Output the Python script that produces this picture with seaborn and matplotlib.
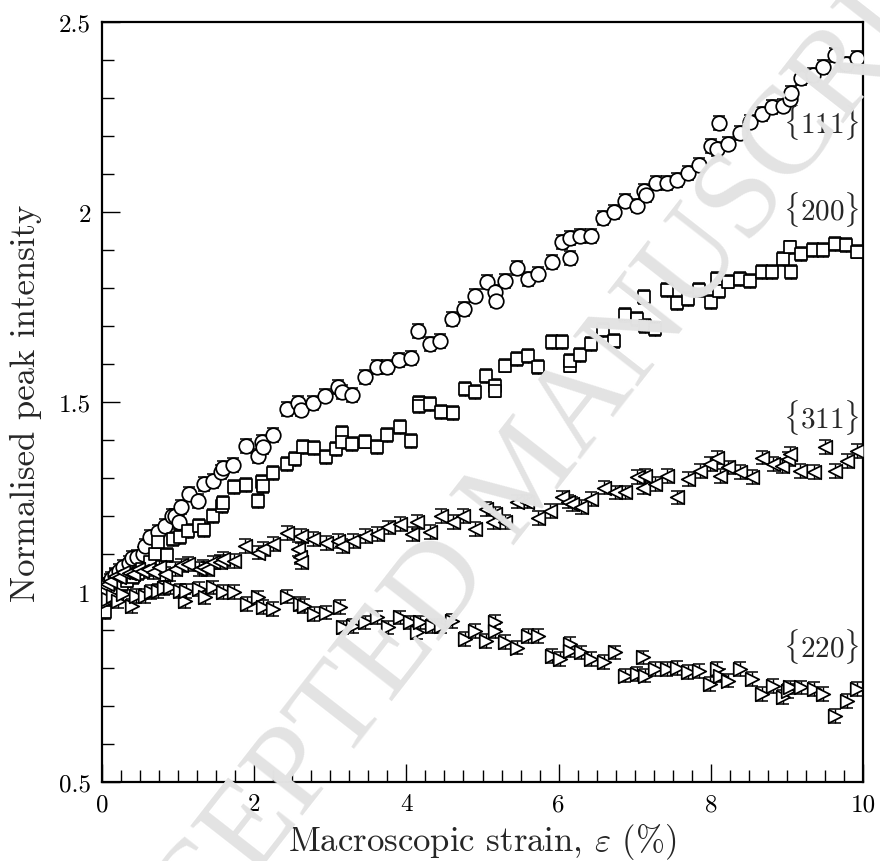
import numpy as np
import pandas as pd
import matplotlib
matplotlib.use("Agg")
import matplotlib.pyplot as plt
from matplotlib.ticker import MultipleLocator, FuncFormatter
import seaborn as sns

# {111} open circles
x111 = [0.00, 0.04, 0.08, 0.12, 0.17, 0.22, 0.27, 0.35, 0.39, 0.46, 0.54, 0.57, 0.63, 0.74,
        0.83, 0.92, 0.96, 1.01, 1.04, 1.14, 1.26, 1.34, 1.46, 1.57, 1.59, 1.72, 1.89, 2.05,
        2.10, 2.11, 2.25, 2.43, 2.57, 2.62, 2.77, 2.93, 3.10, 3.15, 3.29, 3.46, 3.61, 3.74,
        3.90, 4.06, 4.15, 4.31, 4.44, 4.60, 4.76, 4.90, 5.06, 5.16, 5.18, 5.30, 5.45, 5.60,
        5.73, 5.91, 6.04, 6.15, 6.15, 6.28, 6.43, 6.58, 6.73, 6.87, 7.03, 7.12, 7.15, 7.28,
        7.42, 7.56, 7.70, 7.85, 8.00, 8.08, 8.11, 8.23, 8.39, 8.52, 8.67, 8.81, 8.95, 9.04,
        9.05, 9.19, 9.34, 9.47, 9.63, 9.78, 9.92]
y111 = [1.000, 1.010, 1.020, 1.035, 1.045, 1.055, 1.065, 1.076, 1.089, 1.092, 1.100, 1.122,
        1.145, 1.158, 1.174, 1.200, 1.200, 1.184, 1.224, 1.258, 1.240, 1.284, 1.292, 1.316,
        1.326, 1.334, 1.384, 1.358, 1.395, 1.382, 1.413, 1.482, 1.497, 1.480, 1.497, 1.517,
        1.540, 1.526, 1.518, 1.566, 1.592, 1.592, 1.611, 1.616, 1.687, 1.653, 1.661, 1.718,
        1.745, 1.780, 1.816, 1.790, 1.767, 1.819, 1.853, 1.824, 1.837, 1.869, 1.922, 1.879,
        1.932, 1.937, 1.937, 1.984, 2.000, 2.030, 2.017, 2.056, 2.045, 2.076, 2.076, 2.084,
        2.103, 2.124, 2.174, 2.166, 2.234, 2.180, 2.208, 2.238, 2.258, 2.276, 2.280, 2.297,
        2.313, 2.353, 2.361, 2.382, 2.413, 2.390, 2.405]

# {200} open squares
x200 = [0.00, 0.02, 0.04, 0.08, 0.13, 0.19, 0.26, 0.33, 0.41, 0.47, 0.52, 0.63, 0.70, 0.74,
        0.85, 0.93, 1.02, 1.13, 1.27, 1.34, 1.46, 1.58, 1.59, 1.73, 1.89, 2.05, 2.10, 2.11,
        2.25, 2.43, 2.54, 2.64, 2.79, 2.94, 3.08, 3.15, 3.15, 3.29, 3.46, 3.62, 3.75, 3.91,
        4.06, 4.16, 4.16, 4.31, 4.46, 4.61, 4.77, 4.90, 5.05, 5.16, 5.16, 5.30, 5.45, 5.60,
        5.73, 5.91, 6.04, 6.15, 6.15, 6.28, 6.43, 6.58, 6.73, 6.87, 7.03, 7.12, 7.14, 7.27,
        7.42, 7.56, 7.70, 7.85, 8.00, 8.08, 8.11, 8.23, 8.38, 8.52, 8.67, 8.81, 8.95, 9.04,
        9.05, 9.19, 9.34, 9.47, 9.63, 9.78, 9.92]
y200 = [0.960, 0.968, 0.947, 0.985, 0.995, 1.010, 1.020, 1.030, 1.040, 1.050, 1.060, 1.079,
        1.100, 1.132, 1.097, 1.139, 1.145, 1.161, 1.175, 1.164, 1.200, 1.227, 1.234, 1.276,
        1.282, 1.240, 1.289, 1.279, 1.313, 1.337, 1.350, 1.382, 1.379, 1.355, 1.376, 1.418,
        1.395, 1.389, 1.396, 1.382, 1.413, 1.434, 1.398, 1.497, 1.489, 1.495, 1.474, 1.471,
        1.534, 1.526, 1.569, 1.543, 1.530, 1.596, 1.613, 1.622, 1.592, 1.658, 1.658, 1.596,
        1.609, 1.624, 1.653, 1.689, 1.661, 1.729, 1.718, 1.776, 1.700, 1.692, 1.795, 1.761,
        1.771, 1.795, 1.763, 1.824, 1.793, 1.817, 1.824, 1.819, 1.843, 1.843, 1.876, 1.907,
        1.843, 1.889, 1.900, 1.900, 1.916, 1.913, 1.896]

# {311} left triangles
x311 = [0.00, 0.02, 0.06, 0.10, 0.17, 0.22, 0.28, 0.35, 0.41, 0.47, 0.52, 0.60, 0.67, 0.75,
        0.83, 0.96, 1.04, 1.13, 1.27, 1.33, 1.38, 1.46, 1.55, 1.59, 1.73, 1.88, 2.05, 2.12,
        2.25, 2.43, 2.58, 2.60, 2.62, 2.62, 2.77, 2.95, 3.10, 3.15, 3.30, 3.46, 3.61, 3.76,
        3.92, 4.07, 4.14, 4.31, 4.46, 4.61, 4.74, 4.90, 5.05, 5.14, 5.16, 5.30, 5.45, 5.59,
        5.73, 5.89, 6.04, 6.13, 6.17, 6.30, 6.43, 6.59, 6.74, 6.87, 7.03, 7.11, 7.14, 7.27,
        7.42, 7.55, 7.70, 7.86, 7.99, 8.08, 8.12, 8.23, 8.38, 8.54, 8.67, 8.82, 8.93, 9.02,
        9.04, 9.17, 9.35, 9.50, 9.63, 9.79, 9.92]
y311 = [1.000, 1.017, 1.020, 1.030, 1.043, 1.040, 1.052, 1.050, 1.047, 1.060, 1.056, 1.060,
        1.052, 1.065, 1.047, 1.061, 1.070, 1.074, 1.061, 1.066, 1.061, 1.078, 1.079, 1.087,
        1.082, 1.122, 1.104, 1.113, 1.126, 1.155, 1.113, 1.092, 1.079, 1.148, 1.139, 1.129,
        1.135, 1.122, 1.135, 1.148, 1.153, 1.170, 1.179, 1.153, 1.184, 1.158, 1.200, 1.184,
        1.200, 1.166, 1.218, 1.184, 1.205, 1.184, 1.238, 1.238, 1.194, 1.214, 1.249, 1.238,
        1.232, 1.223, 1.245, 1.275, 1.262, 1.262, 1.302, 1.275, 1.306, 1.284, 1.306, 1.249,
        1.297, 1.319, 1.337, 1.354, 1.306, 1.328, 1.315, 1.302, 1.354, 1.337, 1.332, 1.350,
        1.363, 1.319, 1.315, 1.381, 1.319, 1.345, 1.372]

# {220} right triangles
x220 = [0.00, 0.03, 0.05, 0.08, 0.14, 0.21, 0.28, 0.39, 0.45, 0.57, 0.65, 0.74, 0.82, 0.89,
        1.02, 1.09, 1.11, 1.27, 1.35, 1.46, 1.59, 1.73, 1.90, 2.05, 2.11, 2.25, 2.43, 2.60,
        2.65, 2.78, 2.95, 3.13, 3.17, 3.30, 3.46, 3.61, 3.76, 3.92, 4.05, 4.14, 4.18, 4.33,
        4.46, 4.60, 4.77, 4.90, 5.05, 5.16, 5.16, 5.30, 5.45, 5.60, 5.73, 5.91, 6.02, 6.15,
        6.15, 6.30, 6.43, 6.59, 6.74, 6.87, 7.03, 7.11, 7.14, 7.27, 7.42, 7.55, 7.70, 7.84,
        7.99, 8.08, 8.12, 8.23, 8.38, 8.54, 8.67, 8.82, 8.95, 9.02, 9.04, 9.19, 9.35, 9.48,
        9.63, 9.79, 9.92]
y220 = [0.990, 1.000, 0.975, 0.982, 0.990, 0.977, 0.995, 0.964, 0.990, 0.990, 1.000, 1.003,
        1.010, 1.012, 1.003, 0.977, 1.003, 1.008, 0.986, 1.012, 1.000, 1.000, 0.968, 0.986,
        0.960, 0.955, 0.988, 0.968, 0.964, 0.942, 0.946, 0.960, 0.907, 0.911, 0.920, 0.933,
        0.907, 0.933, 0.920, 0.894, 0.920, 0.911, 0.911, 0.924, 0.876, 0.898, 0.872, 0.922,
        0.898, 0.868, 0.854, 0.885, 0.885, 0.832, 0.824, 0.863, 0.846, 0.841, 0.824, 0.815,
        0.841, 0.780, 0.784, 0.828, 0.780, 0.797, 0.797, 0.800, 0.789, 0.793, 0.758, 0.797,
        0.780, 0.767, 0.797, 0.771, 0.732, 0.753, 0.723, 0.740, 0.749, 0.749, 0.745, 0.732,
        0.674, 0.714, 0.745]

series = [
    ("{111}", x111, y111, "o", 110),
    ("{200}", x200, y200, "s", 85),
    ("{311}", x311, y311, "<", 95),
    ("{220}", x220, y220, ">", 95),
]
err = 0.018

sns.set_style("ticks")
plt.rcParams["font.family"] = "serif"
plt.rcParams["font.serif"] = ["cmr10"]
plt.rcParams["mathtext.fontset"] = "cm"
plt.rcParams["axes.formatter.use_mathtext"] = True

fig = plt.figure(figsize=(8.8, 8.62), dpi=100)
ax = fig.add_axes([0.1159, 0.0916, 0.8648, 0.8817])

# watermark
fig.text(0.6, 0.445, "ACCEPTED MANUSCRIPT", rotation=52, fontsize=90,
         color="#e3e3e3", ha="center", va="center", zorder=0,
         family="Liberation Serif")
ax.set_facecolor("none")

for name, xs, ys, mk, sz in series:
    df = pd.DataFrame({"x": xs, "y": ys})
    ax.errorbar(df.x, df.y, yerr=err, fmt="none", ecolor="black",
                elinewidth=1.0, capsize=4.5, capthick=1.1, zorder=2)
    sns.scatterplot(data=df, x="x", y="y", marker=mk, s=sz, color="white",
                    edgecolor="black", linewidth=1.25, ax=ax, zorder=3)

labels = [("{111}", 2.237), ("{200}", 2.008), ("{311}", 1.463), ("{220}", 0.86)]
for lab, yy in labels:
    ax.text(9.95, yy, r"$\{" + lab[1:-1] + r"\}$", ha="right", va="center",
            fontsize=21, zorder=4)

ax.set_xlim(0, 10)
ax.set_ylim(0.5, 2.5)
ax.xaxis.set_major_locator(MultipleLocator(2))
ax.xaxis.set_minor_locator(MultipleLocator(0.25))
ax.yaxis.set_major_locator(MultipleLocator(0.5))
ax.yaxis.set_minor_locator(MultipleLocator(0.1))
ax.xaxis.set_major_formatter(FuncFormatter(lambda v, p: "%g" % v))
ax.yaxis.set_major_formatter(FuncFormatter(lambda v, p: "%g" % v))
ax.tick_params(which="both", direction="in", top=False, right=False, width=1.0,
               labelsize=18, pad=8, colors="black")
ax.tick_params(which="major", length=13)
ax.tick_params(which="minor", length=8.5)
for sp in ax.spines.values():
    sp.set_linewidth(1.6)
    sp.set_color("black")

ax.set_xlabel(r"Macroscopic strain, $\varepsilon$ (%)", fontsize=25, labelpad=4)
ax.set_ylabel("Normalised peak intensity", fontsize=25, labelpad=12)

fig.savefig("out.png", dpi=100)
